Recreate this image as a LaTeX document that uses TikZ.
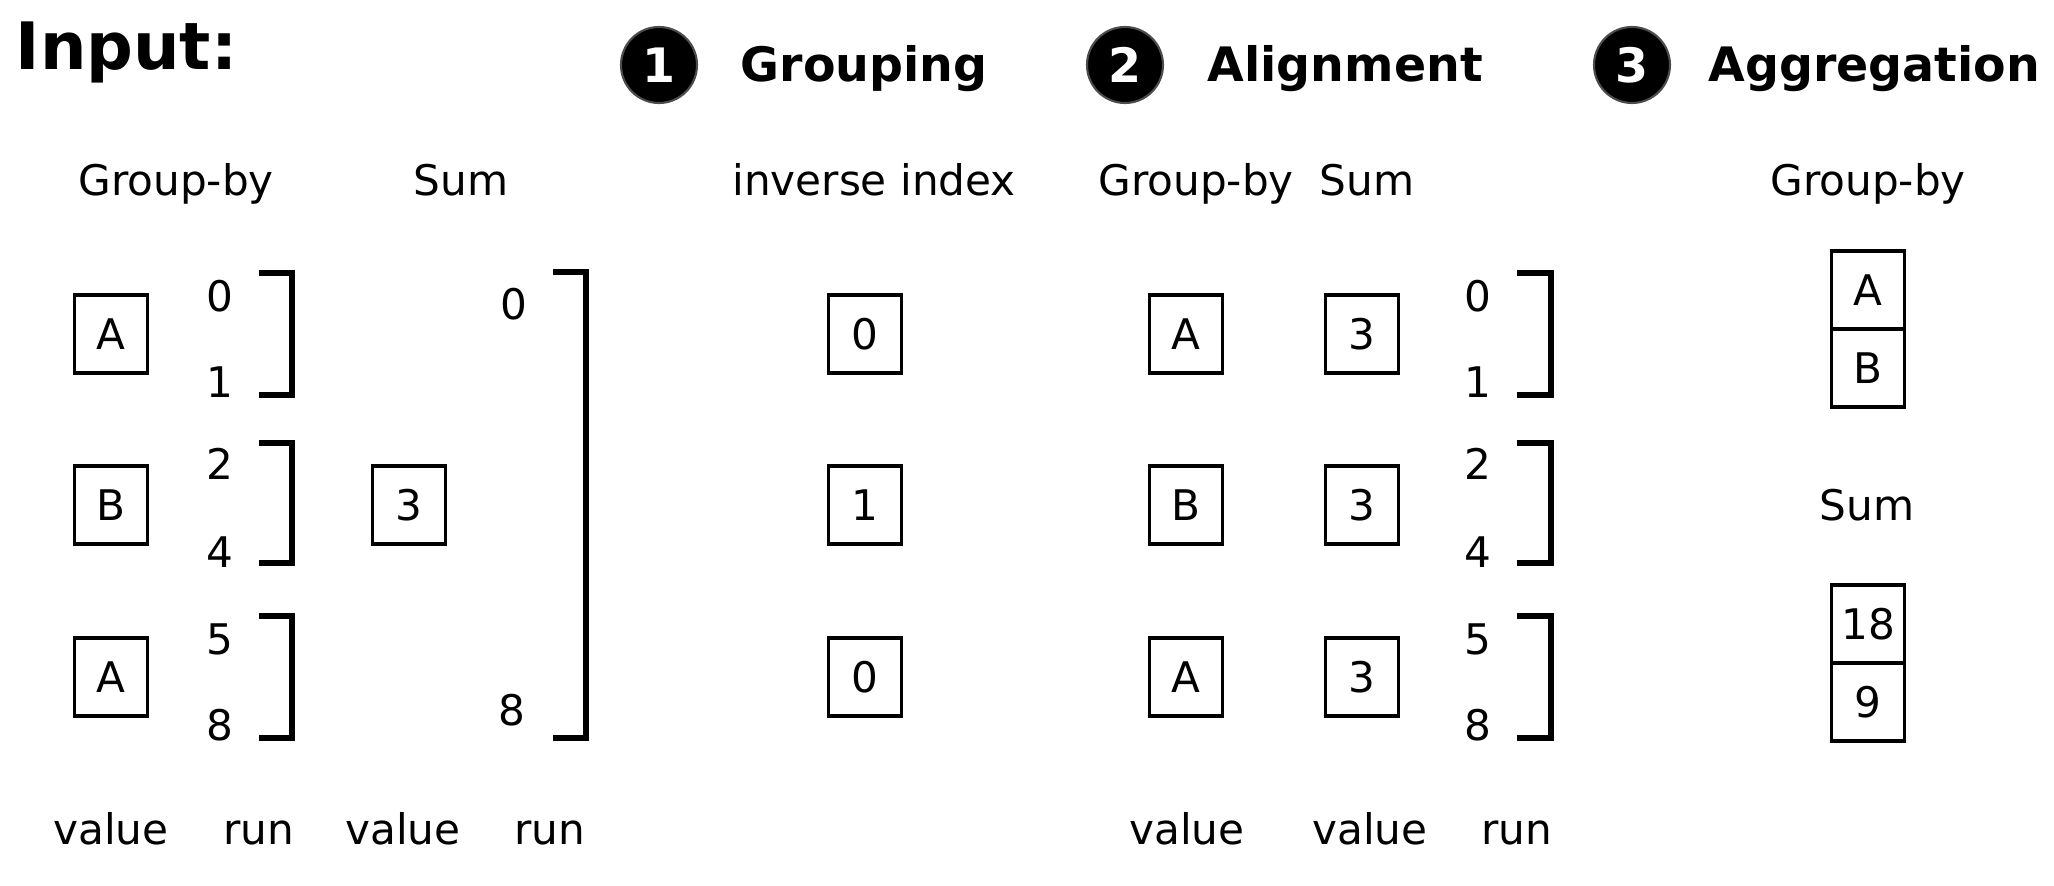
\documentclass[tikz,border=0pt]{standalone}
\usepackage{fontspec}
\setmainfont{DejaVu Sans}
\usetikzlibrary{positioning}
\tikzset{
  cell/.style = {draw, line width=1pt, minimum width=7.3mm, minimum height=7.8mm, inner sep=0pt},
  brk/.style = {line width=1.5pt},
  stepnum/.style = {circle, fill=black, draw=black!70, line width=.6pt, minimum size=7.6mm, inner sep=0pt,
    text=white, font=\fontsize{13.5}{15}\selectfont\bfseries},
  title/.style = {anchor=base west, inner sep=0pt, font=\fontsize{13.5}{15}\selectfont\bfseries},
  lbl/.style = {anchor=base, inner sep=0pt}
}
\begin{document}
\begin{tikzpicture}
      [font = \fontsize{12}{14}\selectfont]
      \useasboundingbox (0,0) rectangle (20.54,8.86);
      % titles
      \node[anchor=base west, inner sep=0pt, font=\fontsize{18.6}{20}\selectfont\bfseries] (input) at (0.15,8.16) {Input:};
      \node[stepnum] (s1) at (6.59,8.21) {1};
      \node[title] (t1) at (7.40,8.04) {Grouping};
      \node[stepnum] (s2) at (11.25,8.21) {2};
      \node[title] (t2) at (12.07,8.04) {Alignment};
      \node[stepnum] (s3) at (16.32,8.21) {3};
      \node[title] (t3) at (17.08,8.04) {Aggregation};
      % column heads
      \node[lbl] (hgb) at (1.76,6.90) {Group-by};
      \node[lbl] (hsum) at (4.61,6.90) {Sum};
      \node[lbl] (hinv) at (8.74,6.90) {inverse index};
      \node[lbl] (agb) at (11.96,6.90) {Group-by};
      \node[lbl] (asum) at (13.67,6.90) {Sum};
      \node[lbl] (ogb) at (18.68,6.90) {Group-by};
      \node[lbl] (osum) at (18.67,3.65) {Sum};
      % rows
      \foreach \v/\k/\y [count = \i] in {A/0/5.52, B/1/3.81, A/0/2.09}
      {
        \node[cell] (gv\i) at (1.11,\y) {\v};
        \node[cell] (inv\i) at (8.65,\y) {\k};
        \node[cell] (av\i) at (11.86,\y) {\v};
        \node[cell] (as\i) at (13.62,\y) {3};
      }
      \node[cell] (sv) at (4.09,3.81) {3};
      % runs
      \foreach \n/\y in {0/5.74, 1/4.88, 2/4.06, 4/3.18, 5/2.31, 8/1.45}
      {
        \node[lbl] (gr\n) at (2.20,\y) {\n};
        \node[lbl] (ar\n) at (14.78,\y) {\n};
      }
      \node[lbl] (sr0) at (5.14,5.66) {0};
      \node[lbl] (sr8) at (5.12,1.60) {8};
      \foreach \t/\b in {6.13/4.91, 4.43/3.23, 2.70/1.48}
      {
        \draw[brk] (2.59,\t) -| (2.92,\b) -- (2.59,\b);
        \draw[brk] (15.17,\t) -| (15.51,\b) -- (15.17,\b);
      }
      \draw[brk] (5.53,6.14) -| (5.86,1.48) -- (5.53,1.48);
      % output
      \node[cell] (oa) at (18.68,5.96) {A};
      \node[cell, below = -1pt of oa] (ob) {B};
      \node[cell] (o18) at (18.68,2.62) {18};
      \node[cell, below = -1pt of o18] (o9) {9};
      \foreach \x/\t [count = \i] in {1.11/value, 2.59/run, 4.03/value, 5.50/run, 11.87/value, 13.70/value, 15.17/run}
        \node[lbl] (bot\i) at (\x,0.41) {\t};
    \end{tikzpicture}
\end{document}
